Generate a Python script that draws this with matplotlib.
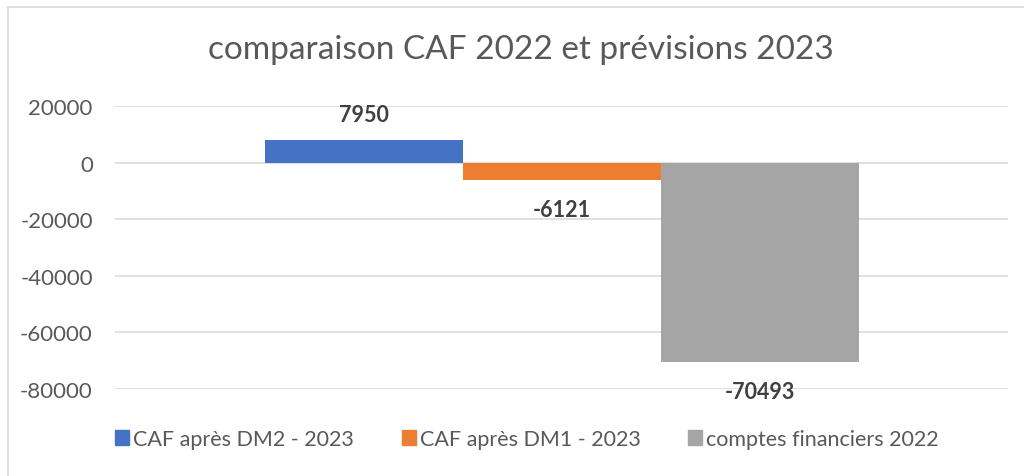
import matplotlib.pyplot as plt
from matplotlib.lines import Line2D
from matplotlib.patches import Patch

# Chart data
series = ["CAF après DM2 - 2023", "CAF après DM1 - 2023", "comptes financiers 2022"]
values = [7950, -6121, -70493]
colors = ["#4472C4", "#ED7D31", "#A5A5A5"]
yticks = [20000, 0, -20000, -40000, -60000, -80000]

plt.rcParams["font.family"] = ["Lato", "DejaVu Sans"]

fig = plt.figure(figsize=(10.24, 4.77), dpi=100)
W, H = 1024, 477

# light frame like the screenshot (top and left edges)
fig.add_artist(Line2D([8 / W, 1], [1 - 8 / H, 1 - 8 / H], color="#D9D9D9", lw=1.2))
fig.add_artist(Line2D([8 / W, 8 / W], [0, 1 - 8 / H], color="#D9D9D9", lw=1.2))

ax = fig.add_axes([115 / W, 1 - 390 / H, (1008 - 115) / W, (390 - 107) / H])
ax.set_xlim(-0.5, 0.5)
ax.set_ylim(-80000, 20000)

width = 198 / 893
offsets = [-width, 0, width]
for off, val, col, name in zip(offsets, values, colors, series):
    ax.bar(off, val, width=width, color=col, zorder=3, label=name)
    if val >= 0:
        ax.text(off, val + 9000, f"{val}", ha="center", va="center",
                fontsize=15.5, fontweight="bold", color="#404040")
    else:
        ax.text(off, val - 10500, f"{val}", ha="center", va="center",
                fontsize=15.5, fontweight="bold", color="#404040", clip_on=False)

ax.set_yticks(yticks)
ax.set_yticklabels([str(t) for t in yticks], fontsize=16, color="#595959")
ax.tick_params(axis="y", length=0, pad=16)
ax.set_xticks([])
ax.grid(axis="y", color="#D9D9D9", lw=1.2, zorder=0)
for s in ax.spines.values():
    s.set_visible(False)

fig.text(521 / W, 1 - 50 / H, "comparaison CAF 2022 et prévisions 2023",
         ha="center", va="center", fontsize=24, color="#595959")

handles = [Patch(color=c, label=n) for c, n in zip(colors, series)]
fig.legend(handles=handles, loc="center", bbox_to_anchor=(527 / W, 1 - 440 / H),
           ncol=3, frameon=False, fontsize=15.5, labelcolor="#595959",
           handlelength=0.65, handleheight=0.65, handletextpad=0.2,
           columnspacing=2.2)

fig.savefig("out.png", dpi=100)
